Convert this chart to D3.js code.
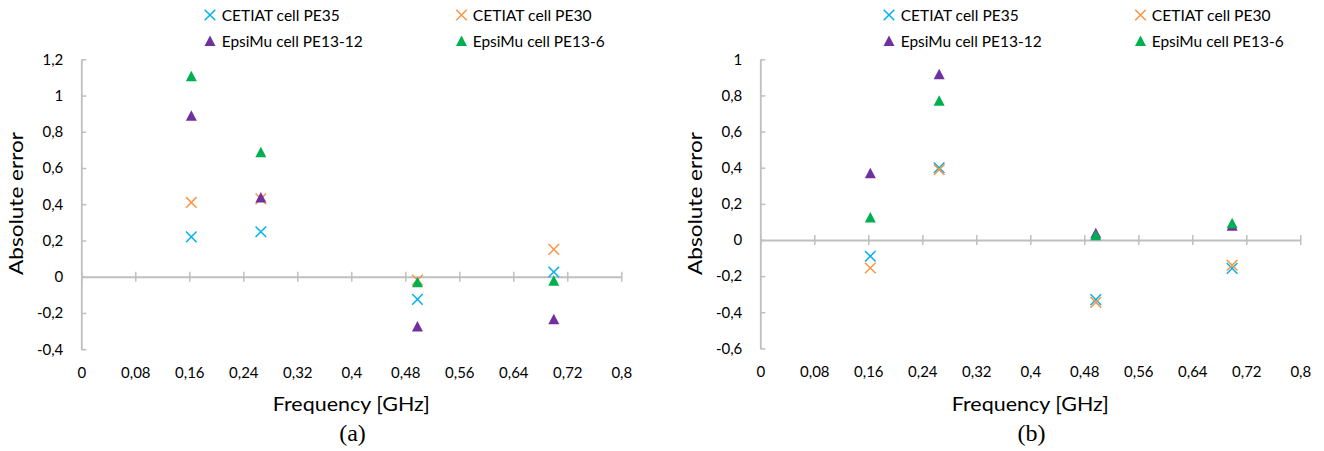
<!DOCTYPE html>
<html>
<head>
<meta charset="utf-8">
<script src="https://cdn.jsdelivr.net/npm/d3@7"></script>
<style>
  body { margin: 0; background: #fff; }
  text { font-family: Lato, "Open Sans", sans-serif; fill: #000; }
</style>
</head>
<body>
<script>
// series names and colours
const seriesNames = ["CETIAT cell PE35", "CETIAT cell PE30", "EpsiMu cell PE13-12", "EpsiMu cell PE13-6"];
const seriesColors = ["#00b0f0", "#f79646", "#7030a0", "#00b050"];
const seriesShapes = ["x", "x", "tri", "tri"];

// panel (a)
const freqA = [0.163, 0.266, 0.498, 0.700];
const pe35A = [0.220, 0.248, -0.125, 0.026];
const pe30A = [0.410, 0.430, -0.018, 0.151];
const pe1312A = [0.889, 0.437, -0.275, -0.235];
const pe136A = [1.106, 0.687, -0.030, -0.022];

// panel (b)
const freqB = [0.163, 0.265, 0.497, 0.699];
const pe35B = [-0.090, 0.400, -0.330, -0.157];
const pe30B = [-0.155, 0.389, -0.345, -0.140];
const pe1312B = [0.369, 0.917, 0.037, 0.079];
const pe136B = [0.124, 0.771, 0.026, 0.092];

const xTicks = [0, 0.08, 0.16, 0.24, 0.32, 0.4, 0.48, 0.56, 0.64, 0.72, 0.8];
const yTicksA = [-0.4, -0.2, 0, 0.2, 0.4, 0.6, 0.8, 1, 1.2];
const yTicksB = [-0.6, -0.4, -0.2, 0, 0.2, 0.4, 0.6, 0.8, 1];

const fmt = d => String(+d.toFixed(2)).replace(".", ",");
const axisColor = "#bfbfbf";

const svg = d3.select("body").append("svg")
    .attr("width", 1324)
    .attr("height", 451);

function marker(g, shape, color) {
  if (shape === "x") {
    g.append("path")
        .attr("d", "M-5.3,-5.3L5.3,5.3M-5.3,5.3L5.3,-5.3")
        .attr("stroke", color)
        .attr("stroke-width", 1.5)
        .attr("fill", "none");
  } else {
    g.append("path")
        .attr("d", "M0,-5.5L5.5,5L-5.5,5Z")
        .attr("fill", color);
  }
}

function panel(opts) {
  const {dx, freq, series, yDomain, yRange, yTicks, label} = opts;
  const g = svg.append("g").attr("transform", `translate(${dx},0)`);

  const x = d3.scaleLinear().domain([0, 0.8]).range([81.3, 621.3]);
  const y = d3.scaleLinear().domain(yDomain).range(yRange);
  const y0 = y(0);
  const yBottom = yRange[0];

  // y axis, ticks inside
  g.append("g")
      .attr("transform", `translate(${x(0)},0)`)
      .call(d3.axisLeft(y).tickValues(yTicks).tickFormat(fmt)
        .tickSizeInner(-5).tickSizeOuter(0).tickPadding(18))
      .call(a => a.select(".domain").attr("stroke", axisColor).attr("stroke-width", 1.8))
      .call(a => a.selectAll(".tick line").attr("stroke", axisColor).attr("stroke-width", 1.5))
      .call(a => a.selectAll(".tick text")
        .attr("font-family", "Lato, sans-serif")
        .attr("font-size", 15)
        .attr("fill", "#000"));

  // x axis on the zero line, labels low
  g.append("g")
      .attr("transform", `translate(0,${y0})`)
      .call(d3.axisBottom(x).tickValues(xTicks).tickFormat(fmt).tickSizeOuter(0))
      .call(a => a.select(".domain").attr("stroke", axisColor).attr("stroke-width", 1.8))
      .call(a => a.selectAll(".tick line")
        .attr("y1", -5).attr("y2", 5)
        .attr("stroke", axisColor).attr("stroke-width", 1.5))
      .call(a => a.selectAll(".tick text")
        .attr("dy", null)
        .attr("y", yBottom + 28.5 - y0)
        .attr("font-family", "Lato, sans-serif")
        .attr("font-size", 15)
        .attr("fill", "#000"));

  // points
  series.forEach((vals, i) => {
    vals.forEach((v, j) => {
      const m = g.append("g").attr("transform", `translate(${x(freq[j])},${y(v)})`);
      marker(m, seriesShapes[i], seriesColors[i]);
    });
  });

  // legend
  const legX = [210, 461.5], legTextX = [221.7, 472.7], legY = [15, 41];
  const legLen = [118, 119, 141, 132];
  seriesNames.forEach((name, i) => {
    const col = i % 2, row = Math.floor(i / 2);
    const m = g.append("g").attr("transform", `translate(${legX[col]},${legY[row]})`);
    marker(m, seriesShapes[i], seriesColors[i]);
    g.append("text")
        .attr("x", legTextX[col])
        .attr("y", legY[row] + 5.5)
        .attr("font-size", 16)
        .attr("textLength", legLen[i])
        .attr("lengthAdjust", "spacingAndGlyphs")
        .text(name);
  });

  // axis titles
  g.append("text")
      .attr("transform", `translate(23,203.5) rotate(-90)`)
      .attr("text-anchor", "middle")
      .attr("font-size", 20)
      .attr("textLength", 143)
      .attr("lengthAdjust", "spacingAndGlyphs")
      .text("Absolute error");

  g.append("text")
      .attr("x", 351.3)
      .attr("y", 410.7)
      .attr("text-anchor", "middle")
      .attr("font-size", 20)
      .attr("textLength", 157)
      .attr("lengthAdjust", "spacingAndGlyphs")
      .text("Frequency [GHz]");

  g.append("text")
      .attr("x", 352.5)
      .attr("y", 441)
      .attr("text-anchor", "middle")
      .style("font-family", "'Liberation Serif', 'Times New Roman', serif")
      .attr("font-size", 24)
      .text(label);
}

panel({
  dx: 0,
  freq: freqA,
  series: [pe35A, pe30A, pe1312A, pe136A],
  yDomain: [-0.4, 1.2],
  yRange: [349.2, 59.3],
  yTicks: yTicksA,
  label: "(a)"
});

panel({
  dx: 679,
  freq: freqB,
  series: [pe35B, pe30B, pe1312B, pe136B],
  yDomain: [-0.6, 1],
  yRange: [348.4, 59.3],
  yTicks: yTicksB,
  label: "(b)"
});
</script>
</body>
</html>
